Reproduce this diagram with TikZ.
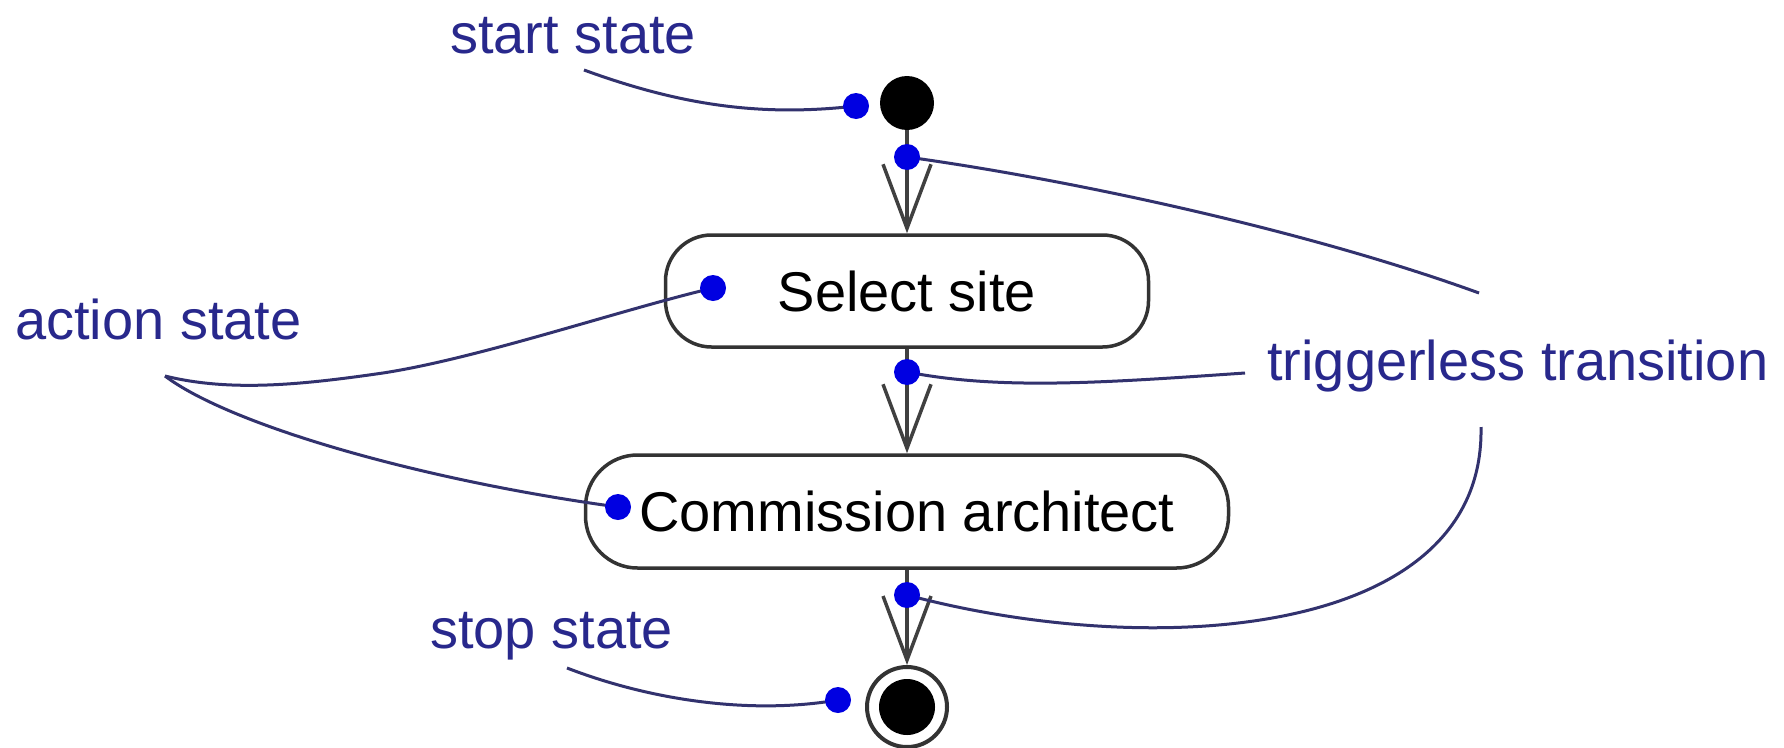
\documentclass[tikz,border=0pt]{standalone}
\usepackage{fontspec}
\setmainfont{Liberation Sans}
\usetikzlibrary{arrows.meta}
\definecolor{labelblue}{RGB}{40,40,140}
\definecolor{leader}{RGB}{50,50,110}
\definecolor{dotblue}{RGB}{0,0,225}
\begin{document}
\begin{tikzpicture}[x=1pt,y=-1pt,
  lbl/.style={text=labelblue, font=\fontsize{56}{60}\selectfont, inner sep=0pt, anchor=base west},
  act/.style={draw=black!80, line width=3.5pt, font=\fontsize{56}{60}\selectfont, inner sep=0pt},
  pin/.style={circle, fill=dotblue, inner sep=0pt, minimum size=26pt},
  lead/.style={draw=leader, line width=3pt},
  trans/.style={draw=black!75, line width=4pt, -{Straight Barb[length=64pt,width=48pt,line width=3.5pt]}},
]
\fill[white] (0,0) rectangle (1784,747);
\useasboundingbox (0,0) rectangle (1784,747);

% states
\node[circle, fill=black, minimum size=54pt, inner sep=0pt] (start) at (907,103) {};
\node[act, rounded corners=46pt, minimum width=483pt, minimum height=112pt] (sel) at (907,291) {Select site};
\node[act, rounded corners=52pt, minimum width=643pt, minimum height=113pt] (com) at (907,511.5) {Commission architect};
\node[circle, draw=black!80, line width=4pt, minimum size=80pt, inner sep=0pt] (stop) at (907,707) {};
\node[circle, fill=black, minimum size=56pt, inner sep=0pt] (stopin) at (stop.center) {};

% transitions
\draw[trans] (start) -- (sel);
\draw[trans] (sel) -- (com);
\draw[trans] (com) -- (stop);

% labels
\node[lbl] (ls) at (450,53) {start state};
\node[lbl] (la) at (15,339) {action state};
\node[lbl] (lt) at (1267,380) {triggerless transition};
\node[lbl] (lp) at (430,648) {stop state};

% pin positions
\coordinate (p1) at (856,106);
\coordinate (t1) at (907,157);
\coordinate (a1) at (713,288);
\coordinate (t2) at (907,372);
\coordinate (a2) at (618,507);
\coordinate (t3) at (907,595);
\coordinate (p2) at (838,700);

% leader free ends
\coordinate (sL) at (584,70);
\coordinate (aj) at (165,376);
\coordinate (tj1) at (1479,293);
\coordinate (tj2) at (1245,373);
\coordinate (tj3) at (1481,427);
\coordinate (sP) at (567,668);

% leaders
\draw[lead] (sL) .. controls (680,105) and (760,117) .. (p1);
\draw[lead] (aj) .. controls (230,392) and (300,385) .. (383,373) .. controls (480,358) and (620,310) .. (a1);
\draw[lead] (aj) .. controls (230,425) and (420,480) .. (a2);
\draw[lead] (t1) .. controls (1060,178) and (1300,228) .. (tj1);
\draw[lead] (t2) .. controls (1000,390) and (1100,383) .. (tj2);
\draw[lead] (t3) .. controls (1150,660) and (1485,640) .. (tj3);
\draw[lead] (sP) .. controls (650,700) and (750,715) .. (p2);

% pins
\foreach \p in {p1,t1,a1,t2,a2,t3,p2} \node[pin] at (\p) {};
\end{tikzpicture}
\end{document}
